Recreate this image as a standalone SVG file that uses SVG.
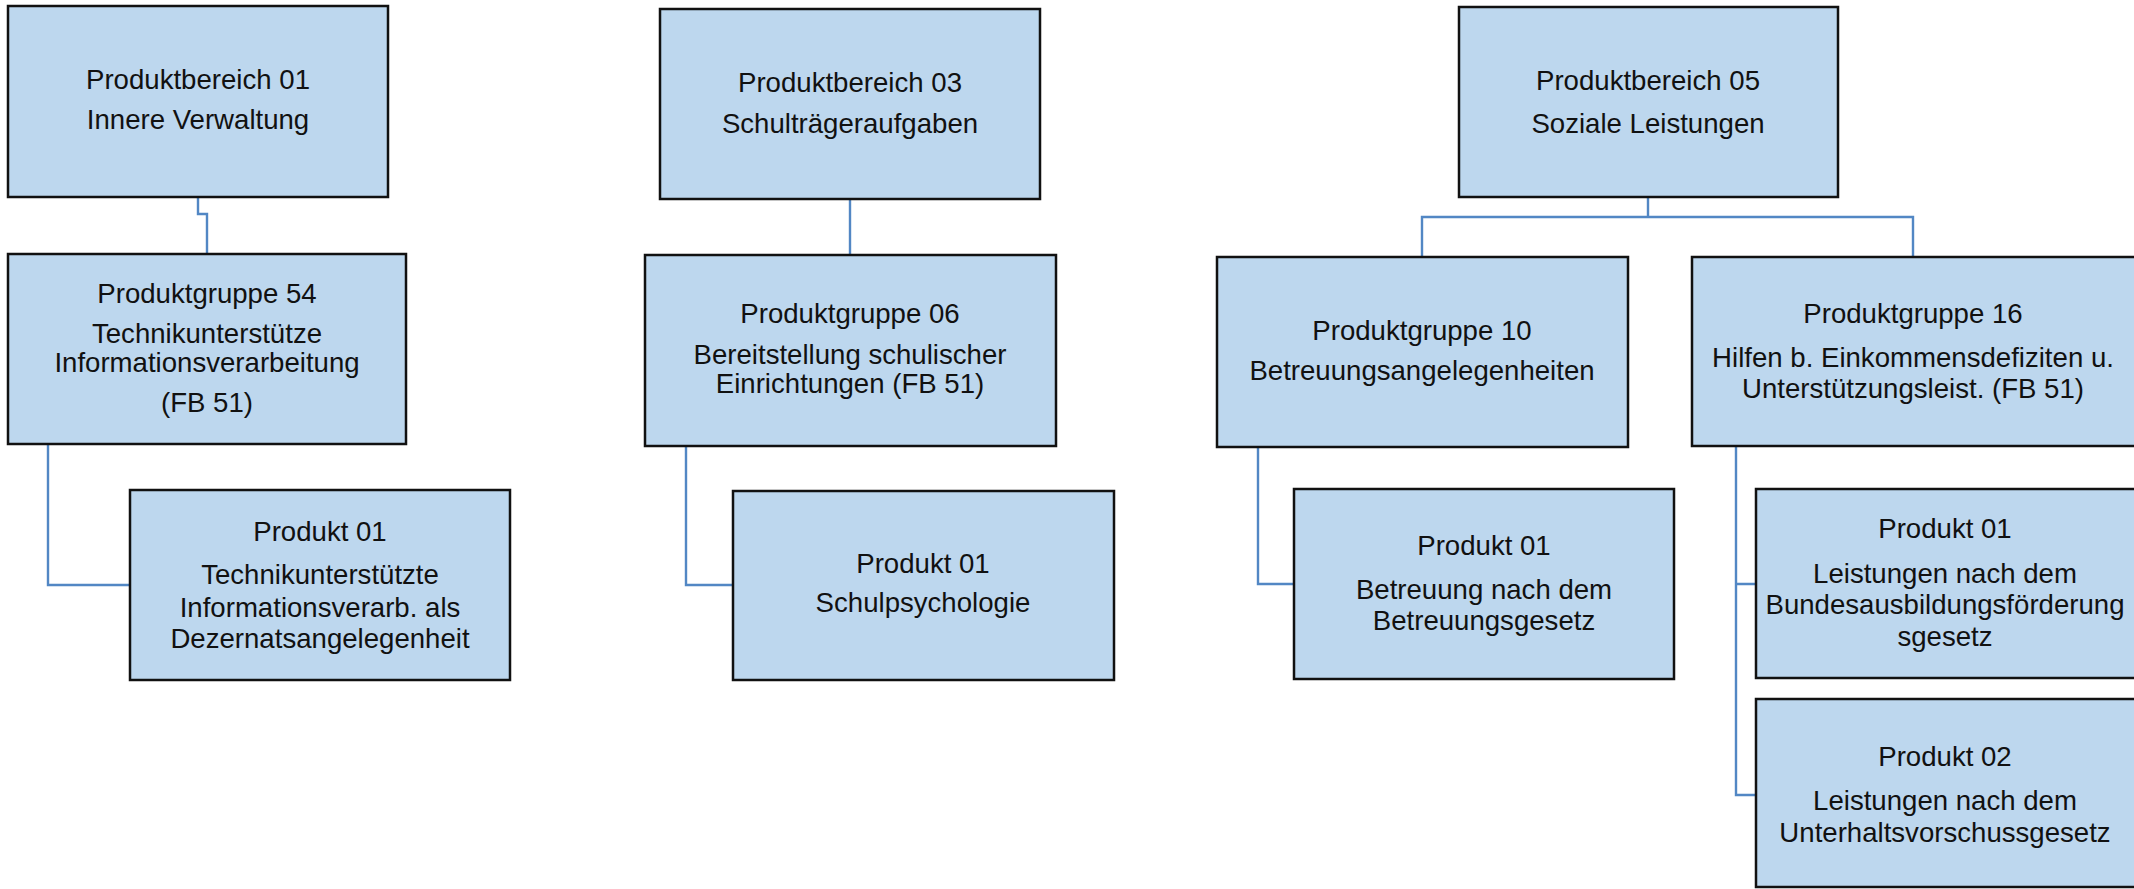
<svg xmlns="http://www.w3.org/2000/svg" width="2134" height="889" viewBox="0 0 2134 889">
<style>
.box{fill:#bdd7ee;stroke:#111;stroke-width:2.5}
.t{font-family:"Liberation Sans",Arial,sans-serif;font-size:27.6px;fill:#111;text-anchor:middle}
.c{fill:none;stroke:#5287c4;stroke-width:2.4}
</style>
<rect width="2134" height="889" fill="#fff"/>
<g id="connectors">
<path class="c" d="M198,197 V214 H207 V254"/>
<path class="c" d="M48,444 V585 H130"/>
<path class="c" d="M850,199 V255"/>
<path class="c" d="M686,446 V585 H733"/>
<path class="c" d="M1648,197 V217 M1422,257 V217 H1913 V257"/>
<path class="c" d="M1258,447 V584 H1294"/>
<path class="c" d="M1736,446 V795 H1756 M1736,584 H1756"/>
</g>
<g id="pb01">
<rect class="box" x="8" y="6" width="380" height="191"/>
<text class="t" x="198" y="89">Produktbereich 01</text>
<text class="t" x="198" y="129">Innere Verwaltung</text>
</g>
<g id="pg54">
<rect class="box" x="8" y="254" width="398" height="190"/>
<text class="t" x="207" y="303">Produktgruppe 54</text>
<text class="t" x="207" y="343">Technikunterstütze</text>
<text class="t" x="207" y="372">Informationsverarbeitung</text>
<text class="t" x="207" y="412">(FB 51)</text>
</g>
<g id="p01-54">
<rect class="box" x="130" y="490" width="380" height="190"/>
<text class="t" x="320" y="541">Produkt 01</text>
<text class="t" x="320" y="584">Technikunterstützte</text>
<text class="t" x="320" y="617">Informationsverarb. als</text>
<text class="t" x="320" y="648">Dezernatsangelegenheit</text>
</g>
<g id="pb03">
<rect class="box" x="660" y="9" width="380" height="190"/>
<text class="t" x="850" y="92">Produktbereich 03</text>
<text class="t" x="850" y="133">Schulträgeraufgaben</text>
</g>
<g id="pg06">
<rect class="box" x="645" y="255" width="411" height="191"/>
<text class="t" x="850" y="323">Produktgruppe 06</text>
<text class="t" x="850" y="364">Bereitstellung schulischer</text>
<text class="t" x="850" y="393">Einrichtungen (FB 51)</text>
</g>
<g id="p01-06">
<rect class="box" x="733" y="491" width="381" height="189"/>
<text class="t" x="923" y="573">Produkt 01</text>
<text class="t" x="923" y="612">Schulpsychologie</text>
</g>
<g id="pb05">
<rect class="box" x="1459" y="7" width="379" height="190"/>
<text class="t" x="1648" y="90">Produktbereich 05</text>
<text class="t" x="1648" y="133">Soziale Leistungen</text>
</g>
<g id="pg10">
<rect class="box" x="1217" y="257" width="411" height="190"/>
<text class="t" x="1422" y="340">Produktgruppe 10</text>
<text class="t" x="1422" y="380">Betreuungsangelegenheiten</text>
</g>
<g id="pg16">
<rect class="box" x="1692" y="257" width="450" height="189"/>
<text class="t" x="1913" y="323">Produktgruppe 16</text>
<text class="t" x="1913" y="367">Hilfen b. Einkommensdefiziten u.</text>
<text class="t" x="1913" y="398">Unterstützungsleist. (FB 51)</text>
</g>
<g id="p01-10">
<rect class="box" x="1294" y="489" width="380" height="190"/>
<text class="t" x="1484" y="555">Produkt 01</text>
<text class="t" x="1484" y="599">Betreuung nach dem</text>
<text class="t" x="1484" y="630">Betreuungsgesetz</text>
</g>
<g id="p01-16">
<rect class="box" x="1756" y="489" width="386" height="189"/>
<text class="t" x="1945" y="538">Produkt 01</text>
<text class="t" x="1945" y="583">Leistungen nach dem</text>
<text class="t" x="1945" y="614">Bundesausbildungsförderung</text>
<text class="t" x="1945" y="646">sgesetz</text>
</g>
<g id="p02-16">
<rect class="box" x="1756" y="699" width="386" height="188"/>
<text class="t" x="1945" y="766">Produkt 02</text>
<text class="t" x="1945" y="810">Leistungen nach dem</text>
<text class="t" x="1945" y="842">Unterhaltsvorschussgesetz</text>
</g>
</svg>
